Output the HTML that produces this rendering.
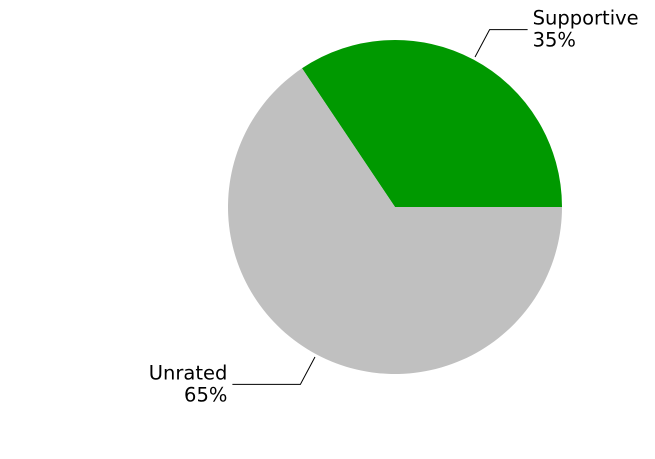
<!DOCTYPE html>
<html><head><meta charset="utf-8"><style>
html,body{margin:0;padding:0;background:#fff;}
svg{display:block;font-family:"DejaVu Sans","Liberation Sans",sans-serif;}
</style></head><body>
<svg id="chart" width="655" height="459" viewBox="0 0 655 459"></svg>
<script>
const categories = ["Supportive", "Unrated"];
const values = [34.4, 65.6];
const valueLabels = ["35%", "65%"];
const colors = ["#009900", "#c0c0c0"];

const svg = document.getElementById('chart');
const NS = 'http://www.w3.org/2000/svg';
const cx = 395, cy = 207, r = 167;
const total = values.reduce((a, b) => a + b, 0);
function pt(angDeg, rad) {
  const a = angDeg * Math.PI / 180;
  return [cx + rad * Math.cos(a), cy - rad * Math.sin(a)];
}
let start = 0;
values.forEach((v, i) => {
  const sweep = v / total * 360;
  const end = start + sweep;
  const [x1, y1] = pt(start, r), [x2, y2] = pt(end, r);
  const large = sweep > 180 ? 1 : 0;
  const p = document.createElementNS(NS, 'path');
  p.setAttribute('d', `M${cx},${cy} L${x1},${y1} A${r},${r} 0 ${large} 0 ${x2},${y2} Z`);
  p.setAttribute('fill', colors[i]);
  
  
  svg.appendChild(p);

  const mid = start + sweep / 2;
  const [ax, ay] = pt(mid, r + 3);
  const [bx, by] = pt(mid, r + 34);
  const right = Math.cos(mid * Math.PI / 180) >= 0;
  const ex = right ? bx + 38 : bx - 68;
  const line = document.createElementNS(NS, 'polyline');
  line.setAttribute('points', `${ax},${ay} ${bx},${by} ${ex},${by}`);
  line.setAttribute('fill', 'none');
  line.setAttribute('stroke', '#000');
  line.setAttribute('stroke-width', '1');
  
  
  svg.appendChild(line);

  const t = document.createElementNS(NS, 'text');
  const tx = right ? ex + 5 : ex - 5;
  t.setAttribute('x', tx);
  t.setAttribute('y', by - 5);
  t.setAttribute('font-size', '19.5');
  t.setAttribute('text-anchor', right ? 'start' : 'end');
  t.setAttribute('fill', '#000');
  
  
  const s1 = document.createElementNS(NS, 'tspan');
  s1.setAttribute('x', tx);
  s1.textContent = categories[i];
  const s2 = document.createElementNS(NS, 'tspan');
  s2.setAttribute('x', tx);
  s2.setAttribute('dy', '22');
  s2.textContent = valueLabels[i];
  t.appendChild(s1); t.appendChild(s2);
  svg.appendChild(t);
  start = end;
});
</script>
</body></html>
